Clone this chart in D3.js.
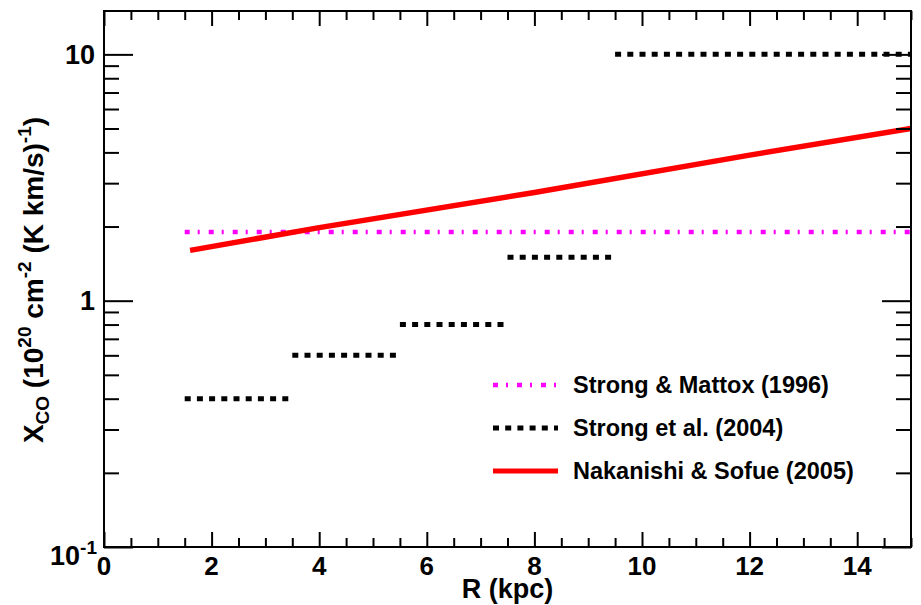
<!DOCTYPE html>
<html>
<head>
    <meta charset="UTF-8">
    <title>X_CO vs R</title>
    <script src="https://d3js.org/d3.v7.min.js"></script>
    <style>
        body {
            margin: 0;
            background: #fff;
        }

        svg text {
            font-family: "Liberation Sans", Arial, sans-serif;
            font-weight: bold;
            fill: #000;
        }

        .tick line {
            stroke: #000;
            stroke-width: 2px;
        }
    </style>
</head>
<body>
    <div id="chart"></div>

    <script>
        // Strong et al. (2004): step values per radial ring
        const stepStart = [1.5, 3.5, 5.5, 7.5, 9.5];
        const stepEnd = [3.5, 5.5, 7.5, 9.5, 15];
        const stepXco = [0.4, 0.6, 0.8, 1.5, 10];

        // Strong & Mattox (1996): constant value
        const mattoxR = [1.5, 15];
        const mattoxXco = [1.9, 1.9];

        // Nakanishi & Sofue (2005): gradient
        const nakR = [1.6, 4, 8, 12, 15];
        const nakXco = [1.6, 1.98, 2.75, 3.9, 5.0];

        const xLabels = [0, 2, 4, 6, 8, 10, 12, 14];
        const yMajor = [0.1, 1, 10];

        const legendNames = ["Strong & Mattox (1996)", "Strong et al. (2004)", "Nakanishi & Sofue (2005)"];
        const legendColors = ["#ff00ff", "#000000", "#ff0000"];
        const legendDash = ["5,8,2,9", "6,6.2", null];

        const width = 921;
        const height = 605;
        const margin = {top: 11, right: 10, bottom: 58, left: 104};
        const plotW = width - margin.left - margin.right;
        const plotH = height - margin.top - margin.bottom;

        const svg = d3.select("#chart")
            .append("svg")
            .attr("width", width)
            .attr("height", height);

        const g = svg.append("g")
            .attr("transform", `translate(${margin.left},${margin.top})`);

        const x = d3.scaleLinear().domain([0, 15]).range([0, plotW]);
        const y = d3.scaleLog().domain([0.1, 15]).range([plotH, 0]);

        g.append("clipPath").attr("id", "clip")
            .append("rect").attr("width", plotW).attr("height", plotH);

        const plot = g.append("g").attr("clip-path", "url(#clip)");

        const line = d3.line()
            .x(d => x(d[0]))
            .y(d => y(d[1]));

        // Strong & Mattox
        plot.append("path")
            .datum(d3.zip(mattoxR, mattoxXco))
            .attr("d", line)
            .attr("fill", "none")
            .attr("stroke", legendColors[0])
            .attr("stroke-width", 4.5)
            .attr("stroke-dasharray", legendDash[0]);

        // Strong et al. steps
        plot.selectAll("path.step")
            .data(stepXco.map((v, i) => [[stepStart[i], v], [stepEnd[i], v]]))
            .join("path")
            .attr("class", "step")
            .attr("d", line)
            .attr("fill", "none")
            .attr("stroke", legendColors[1])
            .attr("stroke-width", 5)
            .attr("stroke-dasharray", legendDash[1]);

        // Nakanishi & Sofue
        plot.append("path")
            .datum(d3.zip(nakR, nakXco))
            .attr("d", line)
            .attr("fill", "none")
            .attr("stroke", legendColors[2])
            .attr("stroke-width", 5.5);

        // ticks on all four sides
        const xMinor = x.ticks(30).filter(v => v % 2 !== 0);
        const yAll = y.ticks();
        const yMinor = yAll.filter(v => !yMajor.includes(v));

        function addAxis(axis, transform) {
            const a = g.append("g").attr("transform", transform).call(axis);
            a.select(".domain").remove();
            a.selectAll("text").remove();
        }

        addAxis(d3.axisBottom(x).tickValues(xLabels).tickSize(-15), `translate(0,${plotH})`);
        addAxis(d3.axisBottom(x).tickValues(xMinor).tickSize(-9), `translate(0,${plotH})`);
        addAxis(d3.axisTop(x).tickValues(xLabels).tickSize(-15), "translate(0,0)");
        addAxis(d3.axisTop(x).tickValues(xMinor).tickSize(-9), "translate(0,0)");
        addAxis(d3.axisLeft(y).tickValues(yMajor).tickSize(-29), "translate(0,0)");
        addAxis(d3.axisLeft(y).tickValues(yMinor).tickSize(-15), "translate(0,0)");
        addAxis(d3.axisRight(y).tickValues(yMajor).tickSize(-29), `translate(${plotW},0)`);
        addAxis(d3.axisRight(y).tickValues(yMinor).tickSize(-15), `translate(${plotW},0)`);

        // frame
        g.append("rect")
            .attr("width", plotW)
            .attr("height", plotH)
            .attr("fill", "none")
            .attr("stroke", "#000")
            .attr("stroke-width", 2);

        // x tick labels
        g.selectAll("text.xlab")
            .data(xLabels)
            .join("text")
            .attr("class", "xlab")
            .attr("x", d => x(d))
            .attr("y", plotH + 28)
            .attr("text-anchor", "middle")
            .attr("font-size", 26)
            .text(d => d);

        // y tick labels
        const ylab = g.selectAll("text.ylab")
            .data(yMajor)
            .join("text")
            .attr("class", "ylab")
            .attr("x", d => d === 0.1 ? -7 : -9)
            .attr("y", d => d === 0.1 ? y(d) + 18 : y(d) + 9.5)
            .attr("text-anchor", "end")
            .attr("font-size", 27);
        ylab.filter(d => d !== 0.1).text(d => d);
        const low = ylab.filter(d => d === 0.1);
        low.append("tspan").text("10");
        low.append("tspan").attr("font-size", 19).attr("dy", -11).text("-1");

        // axis titles
        svg.append("text")
            .attr("x", margin.left + plotW / 2)
            .attr("y", 598)
            .attr("text-anchor", "middle")
            .attr("font-size", 27)
            .text("R (kpc)");

        const yt = svg.append("text")
            .attr("transform", "translate(43,280) rotate(-90)")
            .attr("text-anchor", "middle")
            .attr("font-size", 28);
        yt.append("tspan").text("X");
        yt.append("tspan").attr("font-size", 19).attr("dy", 6).text("CO");
        yt.append("tspan").attr("dy", -6).text(" (10");
        yt.append("tspan").attr("font-size", 19).attr("dy", -12).text("20");
        yt.append("tspan").attr("dy", 12).text(" cm");
        yt.append("tspan").attr("font-size", 19).attr("dy", -12).text("-2");
        yt.append("tspan").attr("dy", 12).text(" (K km/s)");
        yt.append("tspan").attr("font-size", 19).attr("dy", -12).text("-1");
        yt.append("tspan").attr("dy", 12).text(")");

        // legend
        const legend = svg.append("g").attr("transform", "translate(493,385)");
        const items = legend.selectAll("g")
            .data(legendNames)
            .join("g")
            .attr("transform", (d, i) => `translate(0,${i * 43})`);

        items.append("line")
            .attr("x1", 0)
            .attr("x2", 65)
            .attr("stroke", (d, i) => legendColors[i])
            .attr("stroke-width", (d, i) => i === 0 ? 4.5 : 5)
            .attr("stroke-dasharray", (d, i) => legendDash[i]);

        items.append("text")
            .attr("x", 80)
            .attr("y", 8)
            .attr("font-size", 23.5)
            .text(d => d);
    </script>
</body>
</html>
